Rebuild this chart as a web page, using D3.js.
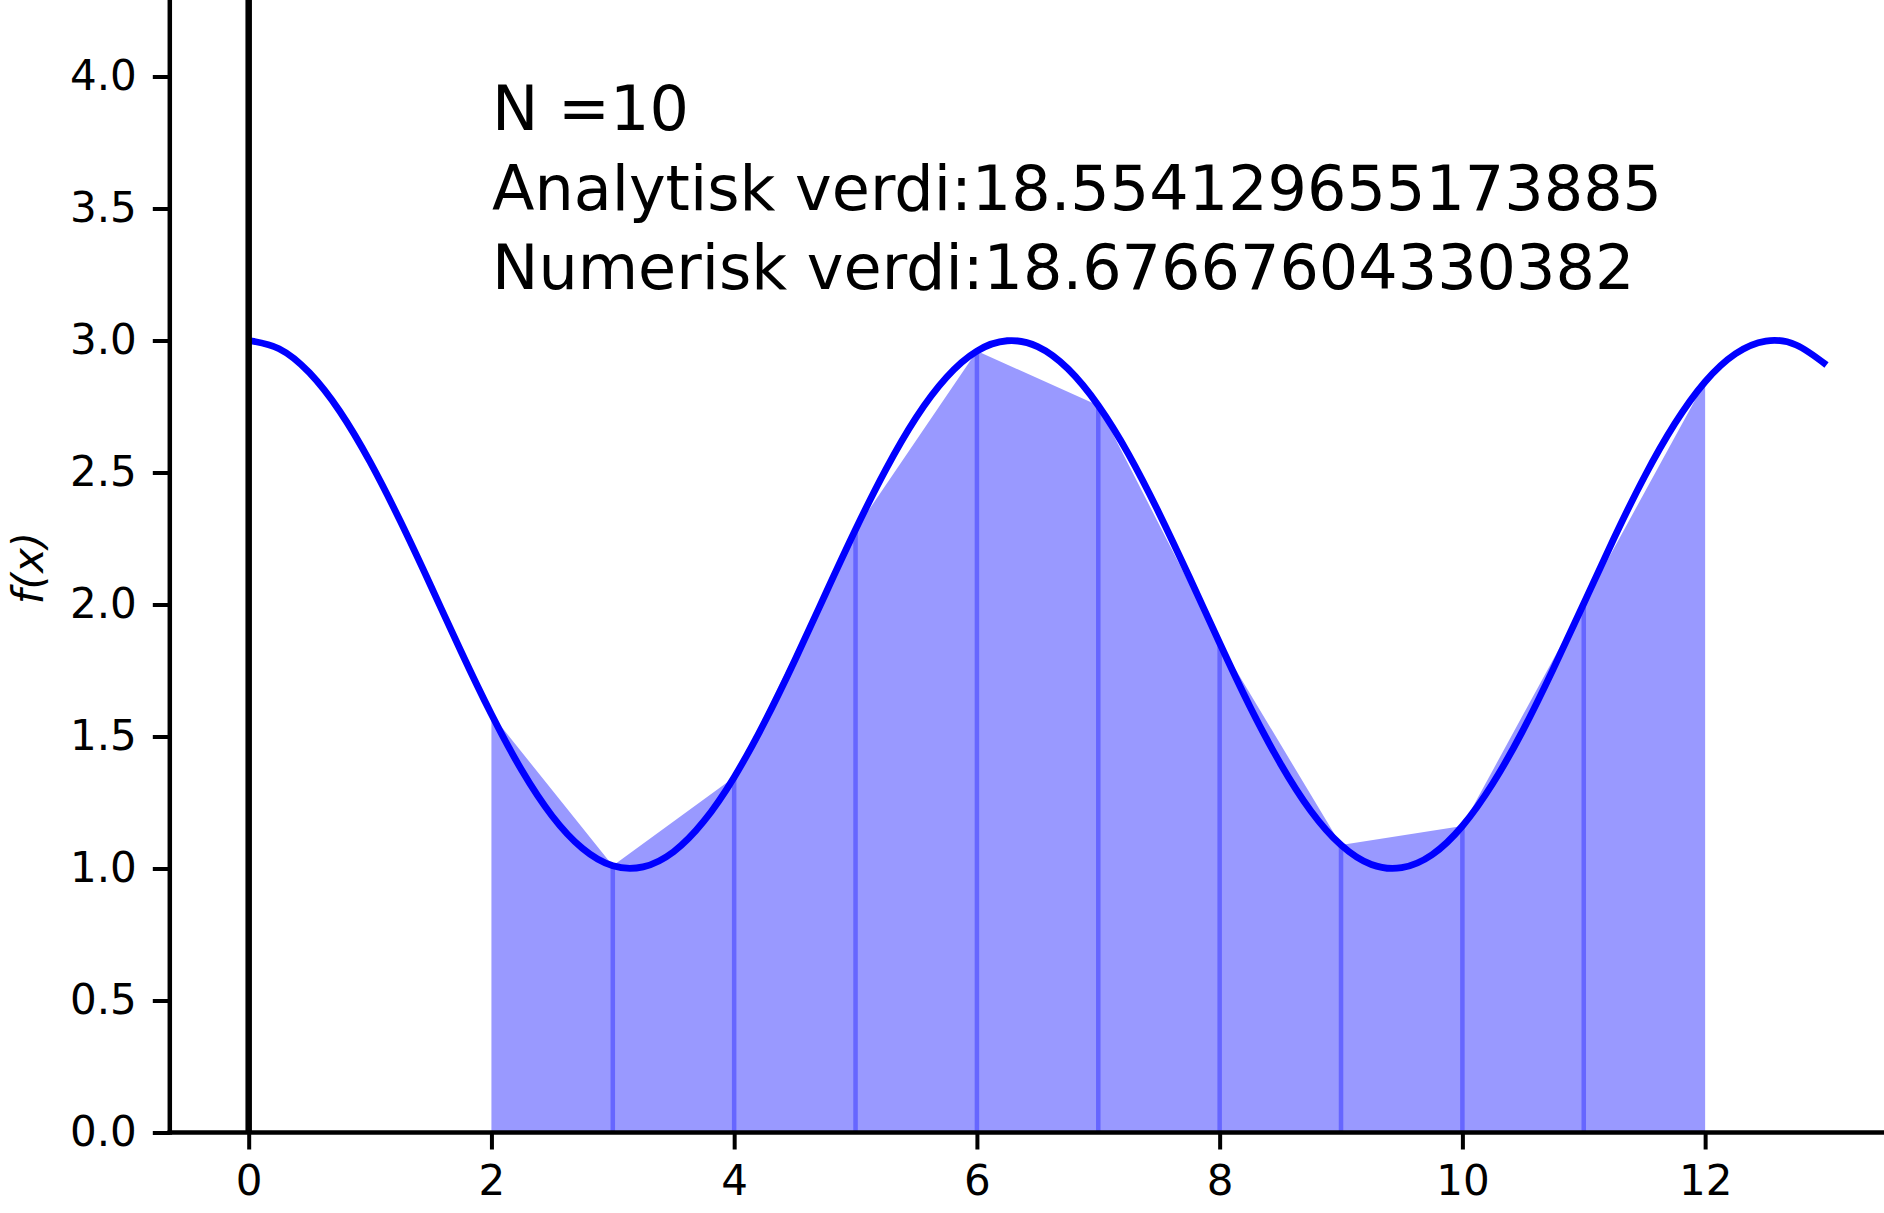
<!DOCTYPE html>
<html>
<head>
<meta charset="utf-8">
<script src="https://cdn.jsdelivr.net/npm/d3@7"></script>
<style>
  html, body { margin: 0; padding: 0; background: #fff; }
  svg { display: block; }
  text { font-family: "DejaVu Sans", sans-serif; fill: #000; }
</style>
</head>
<body>
<svg id="chart" width="1884" height="1213"></svg>
<script>
// ---- data ----
const curveX = [0,0.25,0.5,0.75,1,1.25,1.5,1.75,2,2.25,2.5,2.75,3,3.25,3.5,3.75,4,4.25,4.5,4.75,5,5.25,5.5,5.75,6,6.25,6.5,6.75,7,7.25,7.5,7.75,8,8.25,8.5,8.75,9,9.25,9.5,9.75,10,10.25,10.5,10.75,11,11.25,11.5,11.75,12,12.25,12.5,12.75,13];
const curveY = [3.000,2.969,2.878,2.732,2.540,2.315,2.071,1.822,1.584,1.372,1.199,1.076,1.010,1.006,1.063,1.179,1.346,1.554,1.789,2.038,2.284,2.512,2.709,2.861,2.960,2.999,2.977,2.893,2.754,2.569,2.347,2.104,1.854,1.613,1.398,1.219,1.089,1.015,1.003,1.052,1.161,1.322,1.524,1.757,2.004,2.252,2.484,2.685,2.844,2.950,2.998,2.983,2.907];
const trapX = [2,3,4,5,6,7,8,9,10,11,12];
const trapY = [1.584,1.010,1.346,2.284,2.960,2.754,1.854,1.089,1.161,2.004,2.844];
const xTicks = [0,2,4,6,8,10,12];
const yTicks = [0.0,0.5,1.0,1.5,2.0,2.5,3.0,3.5,4.0];
const infoLines = ["N =10", "Analytisk verdi:18.554129655173885", "Numerisk verdi:18.67667604330382"];
const yLabel = "f(x)";

// ---- layout ----
const svg = d3.select("#chart");
const x = d3.scaleLinear().domain([-0.65, 13.65]).range([169.8, 169.8 + 14.3 * 121.37]);
const y = d3.scaleLinear().domain([0, 4.3]).range([1132.5, 1132.5 - 4.3 * 264]);

const curvePts = curveX.map((v, i) => [v, curveY[i]]);
const trapPts = trapX.map((v, i) => [v, trapY[i]]);

// filled trapezoids
const area = d3.area().x(d => x(d[0])).y0(y(0)).y1(d => y(d[1]));
svg.append("path").datum(trapPts).attr("d", area).attr("fill", "#9999ff").attr("stroke", "none");

// vertical separators
svg.selectAll("line.sep").data(trapPts.slice(1, -1)).enter().append("line")
  .attr("class", "sep")
  .attr("x1", d => x(d[0])).attr("x2", d => x(d[0]))
  .attr("y1", y(0)).attr("y2", d => y(d[1]))
  .attr("stroke", "#6666ff").attr("stroke-width", 4.5);

// curve
const line = d3.line().x(d => x(d[0])).y(d => y(d[1])).curve(d3.curveNatural);
svg.append("path").datum(curvePts).attr("d", line)
  .attr("fill", "none").attr("stroke", "#0000ff").attr("stroke-width", 6.8)
  .attr("stroke-linejoin", "round");

// vertical line at x=0
svg.append("line").attr("x1", x(0)).attr("x2", x(0)).attr("y1", 0).attr("y2", y(0))
  .attr("stroke", "#000").attr("stroke-width", 6.5);

// axes
const xAxis = d3.axisBottom(x).tickValues(xTicks).tickFormat(d3.format("d")).tickSize(17).tickPadding(16);
const gx = svg.append("g").attr("transform", `translate(0,${y(0)})`).call(xAxis);
gx.select(".domain").remove();
gx.selectAll(".tick line").attr("stroke", "#000").attr("stroke-width", 4);
gx.selectAll(".tick text").attr("font-size", 42).attr("font-family", "DejaVu Sans").attr("fill", "#000");

const yAxis = d3.axisLeft(y).tickValues(yTicks).tickFormat(d3.format(".1f")).tickSize(17).tickPadding(16);
const gy = svg.append("g").attr("transform", `translate(${x(-0.65)},0)`).call(yAxis);
gy.select(".domain").remove();
gy.selectAll(".tick line").attr("stroke", "#000").attr("stroke-width", 4);
gy.selectAll(".tick text").attr("font-size", 42).attr("font-family", "DejaVu Sans").attr("fill", "#000");

// spines
svg.append("line").attr("x1", x(-0.65)).attr("x2", 1884).attr("y1", y(0)).attr("y2", y(0))
  .attr("stroke", "#000").attr("stroke-width", 4.5).attr("stroke-linecap", "square");
svg.append("line").attr("x1", x(-0.65)).attr("x2", x(-0.65)).attr("y1", 0).attr("y2", y(0))
  .attr("stroke", "#000").attr("stroke-width", 4.5).attr("stroke-linecap", "square");

// y label
svg.append("text").attr("transform", "translate(28,568) rotate(-90)")
  .attr("text-anchor", "middle").attr("dominant-baseline", "central")
  .attr("font-size", 42).attr("font-style", "italic").text(yLabel);

// info text
const baselines = [130, 209.5, 289];
svg.selectAll("text.info").data(infoLines).enter().append("text")
  .attr("class", "info").attr("x", 492).attr("y", (d, i) => baselines[i])
  .attr("font-size", 62).text(d => d);
</script>
</body>
</html>
